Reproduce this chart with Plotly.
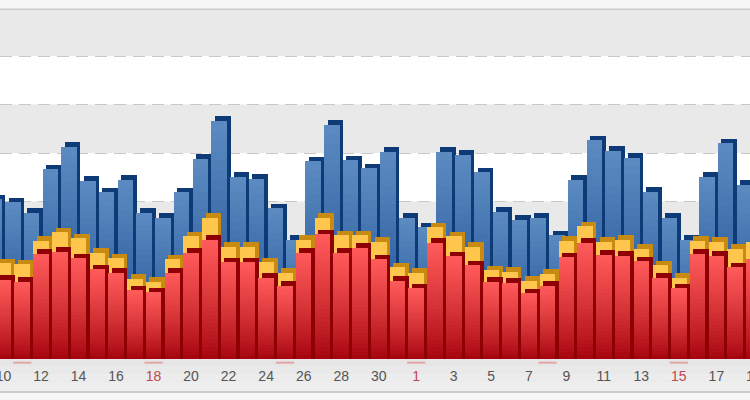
import plotly.graph_objects as go

# ---------- data ----------
day_labels = ["10", "12", "14", "16", "18", "20", "22", "24", "26", "28", "30",
              "1", "3", "5", "7", "9", "11", "13", "15", "17"]
label_slots = [0, 2, 4, 6, 8, 10, 12, 14, 16, 18, 20, 22, 24, 26, 28, 30, 32, 34, 36, 38]
red_label_slots = [8, 22, 36]
sunday_slots = [1, 8, 15, 22, 29, 36]

blue_slots = list(range(-1, 40))
blue_values = [207, 204, 193, 238, 261, 226, 214, 227, 193, 188, 214, 249, 288, 230, 228, 198,
               165, 246, 284, 247, 239, 256, 188, 178, 256, 253, 235, 194, 186, 188, 170, 227,
               268, 257, 250, 215, 188, 165, 230, 265, 222]

stack_slots = list(range(-1, 41))
red_values = [119, 124, 122, 151, 153, 146, 135, 131, 113, 111, 131, 152, 165, 142, 142, 126,
              118, 152, 171, 152, 157, 145, 123, 115, 162, 148, 139, 122, 121, 110, 118, 147,
              162, 150, 149, 143, 126, 115, 151, 149, 137, 145]
stack_values = [138, 141, 140, 164, 173, 167, 152, 146, 125, 122, 145, 169, 188, 158, 158, 142,
                131, 165, 188, 170, 170, 163, 137, 131, 178, 169, 158, 134, 132, 123, 130, 164,
                179, 163, 165, 156, 139, 126, 164, 163, 156, 163]

grid_values = [50, 100, 150, 200, 250, 300, 350]
gray_bands = [(50, 100), (150, 200), (250, 300), (350, 398.6)]

# ---------- styling ----------
BAR_BASE, Y_MIN, Y_MAX = 37.6, 30.4, 398.6
PX_X = 1 / 18.76          # slot units per pixel
PX_Y = 1.031              # value units per pixel
FRONT_W = 15.6 * PX_X
SIDE = 3.6 * PX_X
CAP = 4.5 * PX_Y
BLUE_SHIFT = 9.3 * PX_X
PLOT_TOP, PLOT_BOTTOM = 9, 366


def mix(c1, c2, t):
    return "rgb(%d,%d,%d)" % tuple(round(a + (b - a) * t) for a, b in zip(c1, c2))


def bars(x, y, color, shift=0.0):
    return go.Bar(x=x, y=[v - BAR_BASE for v in y], base=BAR_BASE, width=FRONT_W,
                  offset=shift - FRONT_W / 2,
                  marker=dict(color=color, line=dict(width=0)),
                  hoverinfo="skip", showlegend=False)


def gradient(x, values, shift, top, bottom, layers, power):
    out = []
    for k in range(layers):
        f = 1 - k / layers
        ys = [BAR_BASE + (v - CAP - BAR_BASE) * f for v in values]
        out.append(bars(x, ys, mix(bottom, top, f ** power), shift))
    return out


fig = go.Figure()

# blue series, behind
fig.add_trace(bars(blue_slots, blue_values, "#0f3a78", BLUE_SHIFT + SIDE))
for t in gradient(blue_slots, blue_values, BLUE_SHIFT, (90, 138, 192), (20, 70, 140), 24, 1.0):
    fig.add_trace(t)

# stacked orange cap
fig.add_trace(bars(stack_slots, stack_values, "#c98a12", SIDE))
fig.add_trace(bars(stack_slots, [v - CAP for v in stack_values], "#ffc64e"))

# red series, in front
fig.add_trace(bars(stack_slots, red_values, "#8e0004", SIDE))
for t in gradient(stack_slots, red_values, 0.0, (255, 90, 90), (160, 0, 10), 30, 0.8):
    fig.add_trace(t)

# Sunday dashes under the axis
fig.add_trace(go.Scatter(x=sunday_slots, y=[33.8] * len(sunday_slots), mode="markers",
                         hoverinfo="skip", showlegend=False,
                         marker=dict(symbol="line-ew", size=13,
                                     line=dict(color="#e2a6a6", width=2))))

tick_text = []
for s, d in zip(label_slots, day_labels):
    tick_text.append(f'<span style="color:#c0474c">{d}</span>' if s in red_label_slots else d)

shapes = [dict(type="rect", xref="paper", x0=0, x1=1, yref="y", y0=a, y1=b,
               fillcolor="#e9e9e9", line=dict(width=0), layer="below") for a, b in gray_bands]
# axis strip and frame lines
strip = [(359, 366, "#e6e6e6"), (366, 374, "#e9e9e9"), (374, 383, "#ececec"), (383, 391, "#efefef"),
         (391, 393, "#cbcbcb"), (8.5, 10, "#cbcbcb")]
plot_h = PLOT_BOTTOM - PLOT_TOP
for a, b, c in strip:
    shapes.append(dict(type="rect", xref="paper", yref="paper", x0=0, x1=1,
                       y0=1 - (a - PLOT_TOP) / plot_h, y1=1 - (b - PLOT_TOP) / plot_h,
                       fillcolor=c, line=dict(width=0), layer="below"))

fig.update_layout(
    width=750, height=400,
    margin=dict(l=0, r=0, t=PLOT_TOP, b=400 - PLOT_BOTTOM, autoexpand=False),
    paper_bgcolor="#f6f6f6", plot_bgcolor="#ffffff",
    barmode="overlay", bargap=0, showlegend=False,
    font=dict(family="Liberation Sans, Arial, sans-serif", size=14, color="#555555"),
    shapes=shapes,
    xaxis=dict(range=[-3.5 / 18.76, 746.5 / 18.76], tickmode="array", tickvals=label_slots,
               ticktext=tick_text, ticklen=0, showgrid=False, zeroline=False, showline=False,
               ticklabeloverflow="allow", ticklabelstandoff=0,
               tickfont=dict(size=14, color="#555555")),
    yaxis=dict(range=[Y_MIN, Y_MAX], tickmode="array", tickvals=grid_values, showticklabels=False,
               ticklen=0, showgrid=True, gridcolor="#c9c9c9", gridwidth=1, griddash="12px,7px",
               zeroline=False, showline=False),
    annotations=[dict(x=754 / 750, y=0, xref="paper", yref="paper", xanchor="center", yanchor="top",
                      yshift=0, text="19", showarrow=False,
                      font=dict(size=14, color="#555555"))],
)

fig.write_html("out.html", config={"displayModeBar": False},
               post_script="document.body.style.margin='0';document.body.style.overflow='hidden';")
